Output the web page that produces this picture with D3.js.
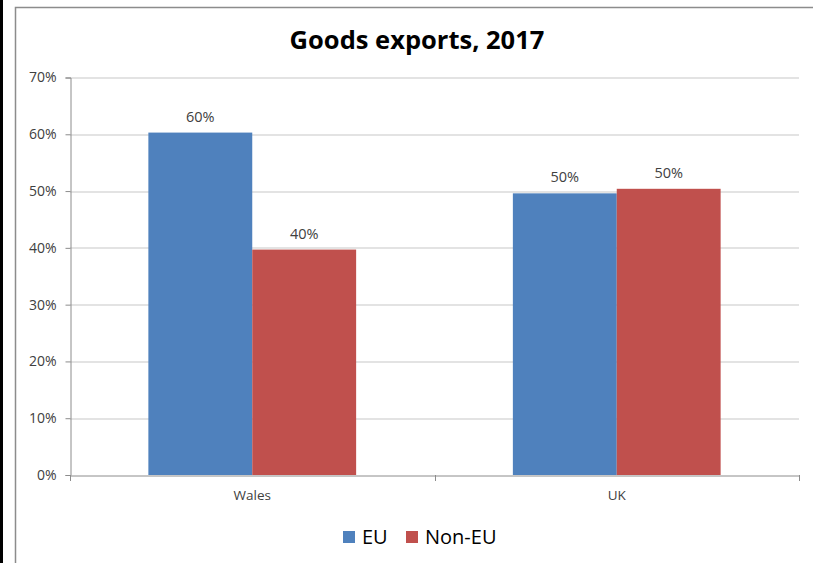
<!DOCTYPE html>
<html>
<head>
<meta charset="utf-8">
<script src="https://cdn.jsdelivr.net/npm/d3@7"></script>
<style>
  body { margin: 0; background: #fff; }
  svg { display: block; font-family: "Open Sans", "Noto Sans", sans-serif; }
</style>
</head>
<body>
<script>
// data
const categories = ["Wales", "UK"];
const seriesNames = ["EU", "Non-EU"];
const euValues = [60.3, 49.6];
const nonEuValues = [39.7, 50.4];
const labelText = [["60%", "40%"], ["50%", "50%"]];
const yTicks = [0, 10, 20, 30, 40, 50, 60, 70];

const colors = ["#4f81bd", "#c0504d"];
const FONT = '"Open Sans", "Noto Sans", sans-serif';

const W = 813, H = 563;
const margin = {top: 77.5, right: 14, bottom: 88, left: 70};
const width = W - margin.left - margin.right;
const height = H - margin.top - margin.bottom;

const svg = d3.select("body").append("svg")
    .attr("width", W)
    .attr("height", H);

// black strip on the left and the outer frame
svg.append("rect").attr("x", 0).attr("y", 0).attr("width", 3).attr("height", H).attr("fill", "#000");
svg.append("rect")
    .attr("x", 15.5).attr("y", 7.5)
    .attr("width", W + 20).attr("height", H + 20)
    .attr("fill", "none").attr("stroke", "#8c8c8c").attr("stroke-width", 1.5);

const g = svg.append("g")
    .attr("transform", "translate(" + margin.left + "," + margin.top + ")");

// scales
const x0 = d3.scaleBand().domain(categories).range([0, width]).paddingInner(0.43).paddingOuter(0.215);
const x1 = d3.scaleBand().domain(seriesNames).range([0, x0.bandwidth()]);
const y = d3.scaleLinear().domain([0, 70]).range([height, 0]);

// gridlines
g.append("g")
  .selectAll("line")
  .data(yTicks.filter(t => t > 0))
  .enter().append("line")
    .attr("x1", 0).attr("x2", width)
    .attr("y1", d => Math.round(y(d)) + 0.5).attr("y2", d => Math.round(y(d)) + 0.5)
    .attr("stroke", "#c8c8c8").attr("stroke-width", 1.2);

// y axis
const yAxis = g.append("g")
    .attr("transform", "translate(0.5,0)")
    .call(d3.axisLeft(y).tickValues(yTicks).tickFormat(d => d + "%").tickSize(5).tickPadding(9))
    .attr("font-family", FONT)
    .attr("font-size", 14);
yAxis.select(".domain").attr("stroke", "#8c8c8c");
yAxis.selectAll(".tick line").attr("stroke", "#8c8c8c");
yAxis.selectAll("text").attr("fill", "#404040");

// bars
const rows = categories.map((c, i) => ({cat: c, vals: [euValues[i], nonEuValues[i]], labels: labelText[i]}));
const groups = g.selectAll(".cat")
  .data(rows)
  .enter().append("g")
    .attr("transform", d => "translate(" + x0(d.cat) + ",0)");

groups.selectAll("rect")
  .data(d => d.vals.map((v, j) => ({name: seriesNames[j], v: v, label: d.labels[j]})))
  .enter().append("rect")
    .attr("x", d => x1(d.name))
    .attr("y", d => y(d.v))
    .attr("width", x1.bandwidth())
    .attr("height", d => height - y(d.v))
    .attr("fill", (d, j) => colors[j]);

groups.selectAll("text")
  .data(d => d.vals.map((v, j) => ({name: seriesNames[j], v: v, label: d.labels[j]})))
  .enter().append("text")
    .attr("x", d => x1(d.name) + x1.bandwidth() / 2)
    .attr("y", d => y(d.v) - 11)
    .attr("text-anchor", "middle")
    .attr("fill", "#404040")
    .attr("font-size", 14.5)
    .text(d => d.label);

// x axis
const xAxis = g.append("g")
    .attr("transform", "translate(0," + (height + 0.5) + ")")
    .call(d3.axisBottom(x0).tickSize(0).tickPadding(15))
    .attr("font-family", FONT)
    .attr("font-size", 13.5);
xAxis.select(".domain").attr("stroke", "#8c8c8c");
xAxis.selectAll("text").attr("fill", "#404040");
// category separator ticks
g.append("g").selectAll("line")
  .data([0, width / 2, width])
  .enter().append("line")
    .attr("x1", d => Math.round(d) + 0.5).attr("x2", d => Math.round(d) + 0.5)
    .attr("y1", height).attr("y2", height + 6)
    .attr("stroke", "#8c8c8c");

// title
svg.append("text")
    .attr("x", 417).attr("y", 49)
    .attr("text-anchor", "middle")
    .attr("font-size", 25.5)
    .attr("font-weight", "bold")
    .attr("fill", "#000")
    .text("Goods exports, 2017");

// legend
const legend = svg.append("g");
const legendX = [343, 406];
seriesNames.forEach((s, i) => {
    legend.append("rect")
        .attr("x", legendX[i]).attr("y", 531)
        .attr("width", 12).attr("height", 12)
        .attr("fill", colors[i]);
    legend.append("text")
        .attr("x", legendX[i] + 19).attr("y", 544)
        .attr("font-size", 20)
        .attr("fill", "#000")
        .text(s);
});
</script>
</body>
</html>
